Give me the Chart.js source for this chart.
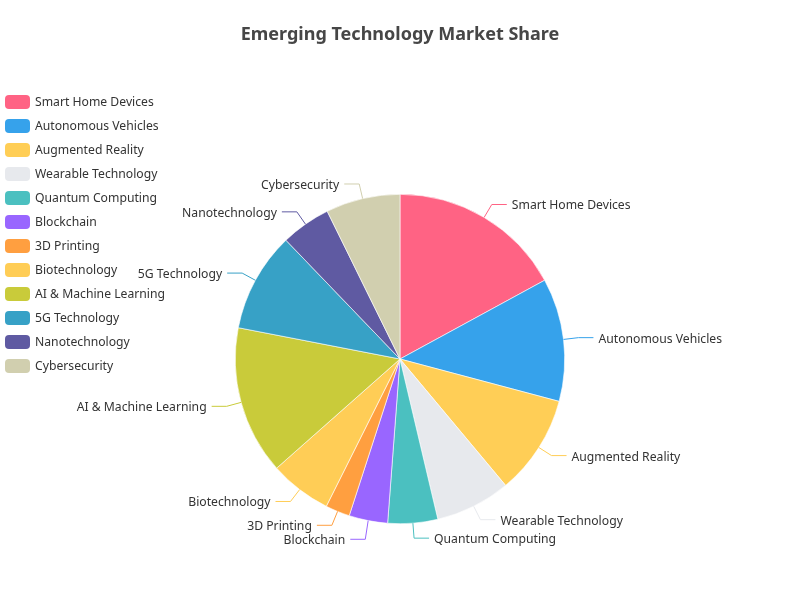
<!DOCTYPE html>
<html>
<head>
<meta charset="utf-8">
<script src="https://cdn.jsdelivr.net/npm/chart.js@4.4.0/dist/chart.umd.min.js"></script>
<style>
  html, body { margin: 0; padding: 0; background: #fff; }
  #wrap { width: 800px; height: 600px; }
</style>
</head>
<body>
<div id="wrap"><canvas id="c" width="800" height="600"></canvas></div>
<script>
const categories = [
  'Smart Home Devices', 'Autonomous Vehicles', 'Augmented Reality', 'Wearable Technology',
  'Quantum Computing', 'Blockchain', '3D Printing', 'Biotechnology',
  'AI & Machine Learning', '5G Technology', 'Nanotechnology', 'Cybersecurity'
];
const shareValues = [17.1, 12.1, 9.8, 7.4, 4.9, 3.8, 2.4, 6.1, 14.6, 9.8, 4.9, 7.3];
const sliceColors = [
  '#FF6384', '#36A2EB', '#FFCE56', '#E7E9ED',
  '#4BC0C0', '#9966FF', '#FF9F40', '#FFCD56',
  '#C9CB3A', '#37A1C6', '#5F5AA2', '#D1CFAF'
];
const chartTitle = 'Emerging Technology Market Share';

const FONT = "'Noto Sans', 'DejaVu Sans', sans-serif";
const TEXT_DY = 1.5;

const sideLegend = {
  id: 'sideLegend',
  afterDraw(chart) {
    const ctx = chart.ctx;
    ctx.save();
    ctx.font = '12.2px ' + FONT;
    ctx.textBaseline = 'middle';
    ctx.textAlign = 'left';
    categories.forEach((name, i) => {
      const cy = 102 + i * 24;
      ctx.fillStyle = sliceColors[i];
      ctx.beginPath();
      if (ctx.roundRect) ctx.roundRect(5, cy - 7, 25, 14, 4); else ctx.rect(5, cy - 7, 25, 14);
      ctx.fill();
      ctx.fillStyle = '#333';
      ctx.fillText(name, 35, cy - 1 + TEXT_DY);
    });
    ctx.restore();
  }
};

const outerLabels = {
  id: 'outerLabels',
  afterDatasetsDraw(chart) {
    const ctx = chart.ctx;
    const meta = chart.getDatasetMeta(0);
    const items = meta.data.map((arc, i) => {
      const p = arc.getProps(['x', 'y', 'startAngle', 'endAngle', 'outerRadius'], true);
      const mid = (p.startAngle + p.endAngle) / 2;
      const cx = Math.cos(mid), sy = Math.sin(mid);
      const x0 = p.x + cx * p.outerRadius, y0 = p.y + sy * p.outerRadius;
      const x1 = x0 + cx * 15, y1 = y0 + sy * 15;
      const right = cx >= 0;
      return { i, x0, y0, x1, y1, right };
    });
    [true, false].forEach(side => {
      const list = items.filter(it => it.right === side).sort((a, b) => a.y1 - b.y1);
      for (let k = 1; k < list.length; k++) {
        if (list[k].y1 - list[k - 1].y1 < 14) list[k].y1 = list[k - 1].y1 + 14;
      }
    });
    ctx.save();
    ctx.font = '12.2px ' + FONT;
    ctx.textBaseline = 'middle';
    items.forEach(it => {
      const x2 = it.right ? it.x1 + 15 : it.x1 - 15;
      ctx.strokeStyle = sliceColors[it.i];
      ctx.lineWidth = 1;
      ctx.beginPath();
      ctx.moveTo(it.x0, it.y0);
      ctx.lineTo(it.x1, it.y1);
      ctx.lineTo(x2, it.y1);
      ctx.stroke();
      ctx.fillStyle = '#333';
      ctx.textAlign = it.right ? 'left' : 'right';
      ctx.fillText(categories[it.i], it.right ? x2 + 5 : x2 - 5, it.y1 + TEXT_DY);
    });
    ctx.restore();
  }
};

new Chart(document.getElementById('c'), {
  type: 'pie',
  data: {
    labels: categories,
    datasets: [{
      data: shareValues,
      backgroundColor: sliceColors,
      borderColor: '#ffffff',
      borderWidth: 0.6
    }]
  },
  options: {
    responsive: false,
    animation: false,
    layout: { padding: { top: 0, bottom: 76, left: 0, right: 0 } },
    plugins: {
      legend: { display: false },
      tooltip: { enabled: false },
      title: {
        display: true,
        text: chartTitle,
        color: '#464646',
        font: { family: FONT, size: 18, weight: 'bold', lineHeight: 1.2 },
        padding: { top: 23.7, bottom: 148.7 }
      }
    }
  },
  plugins: [outerLabels, sideLegend]
});
</script>
</body>
</html>
